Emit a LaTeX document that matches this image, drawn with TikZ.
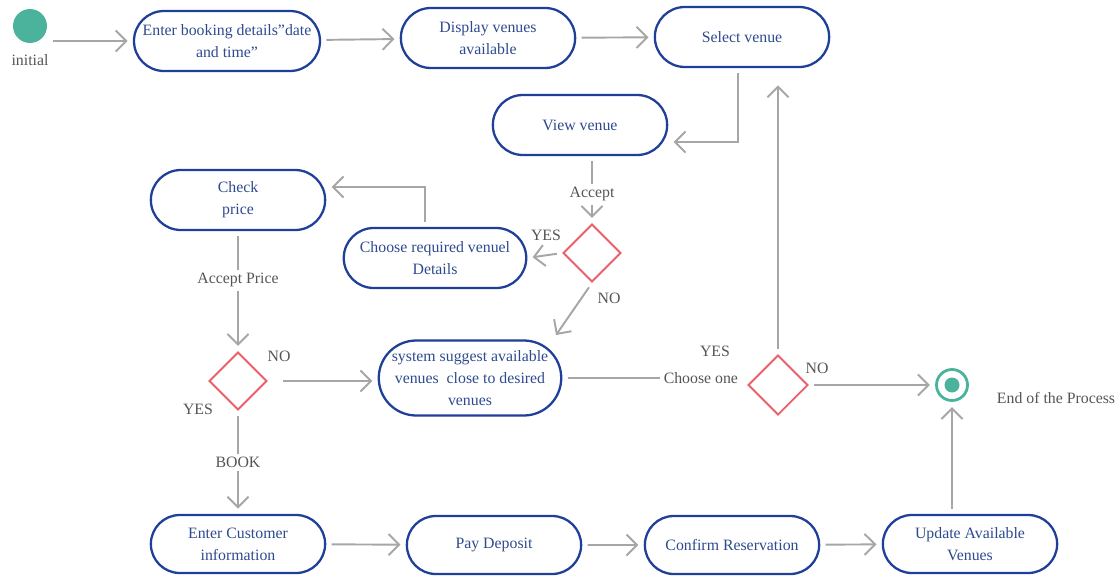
\documentclass[tikz,border=0pt]{standalone}
\usepackage{fontspec}
\setmainfont{Liberation Serif}
\usepackage{tikz}
\usetikzlibrary{shapes.misc, shapes.geometric, arrows.meta, calc, positioning}
\definecolor{boxblue}{HTML}{1F3F99}
\definecolor{textblue}{HTML}{2E4A8E}
\definecolor{arrowgray}{HTML}{A6A6A6}
\definecolor{labelgray}{HTML}{555555}
\definecolor{diared}{HTML}{E8606A}
\definecolor{startgreen}{HTML}{4BB39B}
\tikzset{
    activity/.style ={rounded rectangle, draw=boxblue, line width=1.3pt, text=textblue,
                      align=center, minimum width=3.72cm, minimum height=1.2cm,
                      font=\fontsize{9}{12.5}\selectfont},
    decision/.style ={diamond, draw=diared, line width=1.1pt, minimum size=1.16cm, inner sep=0pt},
    start/.style = {circle, fill=startgreen, minimum size=0.68cm, inner sep=0pt},
    finish/.style = {circle, draw=startgreen, line width=1.6pt, minimum size=0.62cm, inner sep=0pt,
                     path picture={\fill[startgreen] (path picture bounding box.center) circle (0.15cm);}},
    el/.style = {text=labelgray, font=\fontsize{9}{11}\selectfont, inner sep=2pt},
    onpath/.style = {el, fill=white, anchor=center},
    flow/.style = {draw=arrowgray, line width=1.1pt}
    }

\begin{document}
\begin{tikzpicture}[
      > = {Straight Barb[length=6pt,width=12pt]}, % arrow head style
      shorten > = 3pt, % don't touch arrow head to node
      shorten < = 3pt,
      auto
    ]
    \useasboundingbox (0,0) rectangle (22.38,-11.52);

    \node[start] (1) at (0.6,-0.52) {};
    \node[el] (1l) at (0.6,-1.2) {initial};
    \node[activity, inner xsep=0pt] (2) at (4.54,-0.82)
        {Enter booking details\symbol{34}date\\and time\symbol{34}};
    \node[activity] (3) at (9.76,-0.76) {Display venues\\available};
    \node[activity] (4) at (14.84,-0.74) {Select venue};
    \node[activity] (5) at (11.6,-2.5) {View venue};

    \node[decision] (6) at (11.84,-5.06) {};
    \node[activity, inner xsep=1pt] (7) at (8.7,-5.16) {Choose required venuel\\Details};
    \node[activity] (8) at (4.76,-4.0) {Check\\price};

    \node[decision] (9) at (4.76,-7.62) {};
    \node[activity, inner xsep=1pt, minimum height=1.5cm] (10) at (9.4,-7.56)
        {system suggest available\\venues \ close to desired\\venues};
    \node[decision, minimum size=1.2cm] (11) at (15.56,-7.7) {};
    \node[finish] (12) at (19.04,-7.7) {};
    \node[el] (12l) at (21.12,-7.96) {End of the Process};

    \node[activity, minimum height=1.16cm] (13) at (4.76,-10.88) {Enter Customer\\information};
    \node[activity, minimum height=1.16cm] (14) at (9.88,-10.9) {Pay Deposit};
    \node[activity, minimum height=1.16cm] (15) at (14.64,-10.9) {Confirm Reservation};
    \node[activity, minimum height=1.16cm] (16) at (19.4,-10.88) {Update Available\\Venues};

    % branch labels
    \node[el] (y1) at (10.92,-4.7) {YES};
    \node[el] (n1) at (12.18,-5.96) {NO};
    \node[el] (n2) at (5.58,-7.12) {NO};
    \node[el] (y2) at (3.96,-8.18) {YES};
    \node[el] (y3) at (14.3,-7.02) {YES};
    \node[el] (n3) at (16.34,-7.36) {NO};

    \draw[flow,->] (1.east |- 2.west) -- (2.west);
    \path[flow,->] (2) edge (3);
    \path[flow,->] (3) edge (4);
    \draw[flow,->] ([xshift=-0.08cm]4.south) |- ([yshift=-0.34cm]5.east);
    \draw[flow,->] (5.south -| 6) -- node[onpath, pos=0.57] {Accept} (6.north);
    \draw[flow,->] (6.west) -- (7.east);
    \draw[flow,->] ([xshift=-0.2cm]7.north) |- ([yshift=0.26cm]8.east);
    \draw[flow,->] (8.south) -- node[onpath, pos=0.41] {Accept Price} (9.north);
    \draw[flow,->] (6.south) -- ([xshift=1.66cm]10.north);
    \draw[flow,->] ([xshift=0.2cm]9.east) -- (9.east -| 10.west);
    \draw[flow,->] (9.south) -- node[onpath, pos=0.5] {BOOK} (13.north);
    \draw[flow] (10.east) -- node[onpath, pos=0.75] {Choose one} (10.east -| 11.west);
    \draw[flow,->] (11.north) -- ([yshift=-0.24cm]11 |- 4.south);
    \draw[flow,->] (11.east) -- (12.west);
    \path[flow,->] (13) edge (14);
    \path[flow,->] (14) edge (15);
    \path[flow,->] (15) edge (16);
    \draw[flow,->] (16.north -| 12) -- (12.south);
\end{tikzpicture}
\end{document}
